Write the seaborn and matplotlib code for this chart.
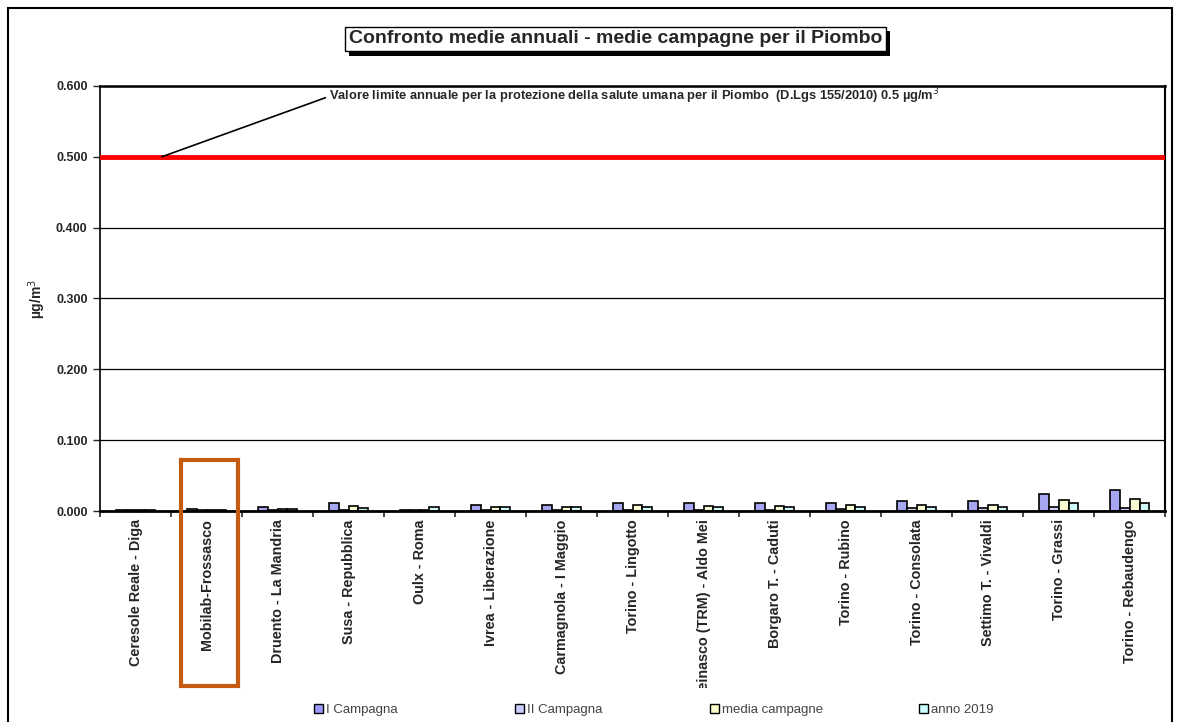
import numpy as np
import pandas as pd
import matplotlib
matplotlib.use("Agg")
import matplotlib.pyplot as plt
import matplotlib.patheffects as pe
from matplotlib.patches import Rectangle
from matplotlib.transforms import Bbox, TransformedBbox
import seaborn as sns

# ==========================================
# DATA (Pb, ug/m3)
# ==========================================

stazioni = [
    "Ceresole Reale - Diga", "Mobilab-Frossasco", "Druento - La Mandria",
    "Susa - Repubblica", "Oulx - Roma", "Ivrea - Liberazione",
    "Carmagnola - I Maggio", "Torino - Lingotto", "Beinasco (TRM) - Aldo Mei",
    "Borgaro T. - Caduti", "Torino - Rubino", "Torino - Consolata",
    "Settimo T. - Vivaldi", "Torino - Grassi", "Torino - Rebaudengo",
]
serie = ["I Campagna", "II Campagna", "media campagne", "anno 2019"]

i_campagna = [0.002, 0.003, 0.005, 0.011, 0.001, 0.008, 0.008, 0.012, 0.012, 0.012, 0.012, 0.014, 0.014, 0.024, 0.030]
ii_campagna = [0.002, 0.002, 0.002, 0.002, 0.001, 0.002, 0.002, 0.002, 0.002, 0.002, 0.003, 0.004, 0.004, 0.005, 0.004]
media_campagne = [0.002, 0.002, 0.003, 0.007, 0.001, 0.005, 0.005, 0.008, 0.007, 0.007, 0.008, 0.008, 0.009, 0.016, 0.017]
anno_2019 = [0.002, 0.002, 0.003, 0.004, 0.005, 0.005, 0.005, 0.005, 0.005, 0.005, 0.005, 0.006, 0.006, 0.012, 0.012]

valore_limite = 0.5
colori = ["#9999FF", "#CCCCFF", "#FFFFCC", "#CCFFFF"]

df = pd.DataFrame({
    "stazione": stazioni * 4,
    "serie": np.repeat(serie, len(stazioni)),
    "valore": i_campagna + ii_campagna + media_campagne + anno_2019,
})

# ==========================================
# PLOT
# ==========================================

sns.set_style("white")
plt.rcParams["font.family"] = ["Liberation Sans", "DejaVu Sans"]

fig = plt.figure(figsize=(11.81, 7.22), dpi=100)
ax = fig.add_axes([0.0847, 0.2922, 0.902, 0.5888])

sns.barplot(data=df, x="stazione", y="valore", hue="serie", palette=colori,
            width=0.55, edgecolor="black", linewidth=1.2, ax=ax, legend=False)

ax.set_xlim(-0.5, len(stazioni) - 0.5)
ax.set_ylim(0, 0.6)
ax.set_yticks(np.arange(0, 0.61, 0.1))
ax.set_yticklabels([f"{v:.3f}" for v in np.arange(0, 0.61, 0.1)], fontsize=9, fontweight="bold")
ax.grid(axis="y", color="black", linewidth=0.9)
ax.set_axisbelow(True)

# limit line
ax.axhline(valore_limite, color="#FF0000", linewidth=3.5, zorder=3)
ax.annotate("Valore limite annuale per la protezione della salute umana per il Piombo  (D.Lgs 155/2010) 0.5 µg/m$^3$",
            xy=(0.37, valore_limite), xytext=(2.72, 0.585), fontsize=9.3, fontweight="bold",
            va="center", ha="left", annotation_clip=False,
            arrowprops=dict(arrowstyle="-", color="black", lw=1.2, shrinkA=0, shrinkB=0,
                            relpos=(0, 0.5)))

# axes / ticks
for s in ["left", "right", "top", "bottom"]:
    ax.spines[s].set_visible(True)
    ax.spines[s].set_color("black")
ax.spines["left"].set_linewidth(1.2)
ax.spines["right"].set_linewidth(1.5)
ax.spines["top"].set_linewidth(1.8)
ax.spines["bottom"].set_linewidth(2.0)

ax.set_xticks(np.arange(len(stazioni)))
ax.set_xticklabels(stazioni, rotation=90, fontsize=10.4, fontweight="bold", va="top")
ax.set_xticks(np.arange(-0.5, len(stazioni), 1), minor=True)
ax.tick_params(axis="x", which="major", length=0, pad=6)
ax.tick_params(axis="x", which="minor", length=4, width=1.2, direction="out", bottom=True)
ax.tick_params(axis="y", length=5, width=1, direction="out", left=True, pad=4)
ax.set_xlabel("")
ax.set_ylabel("µg/m$^3$", fontsize=10, fontweight="bold", labelpad=6)

# long label is cut at the bottom like the original
clip = TransformedBbox(Bbox([[0, 0.047], [1, 1]]), fig.transFigure)
for lab in ax.get_xticklabels():
    lab.set_clip_box(clip)
    lab.set_clip_on(True)

# highlight box around Mobilab
fig.patches.append(Rectangle((181 / 1181, 1 - 686 / 722), 57 / 1181, 226 / 722,
                             transform=fig.transFigure, fill=False,
                             edgecolor="#C55A11", linewidth=3))

# title with shadow box
t = fig.text(0.521, 0.946, "Confronto medie annuali - medie campagne per il Piombo",
             ha="center", va="center", fontsize=14, fontweight="bold",
             bbox=dict(boxstyle="square,pad=0.2", facecolor="white", edgecolor="black", linewidth=1))
t.get_bbox_patch().set_path_effects([
    pe.SimplePatchShadow(offset=(3, -3), shadow_rgbFace="black", alpha=1), pe.Normal()])

# legend: equal-width slots along the bottom
legend_x = [0.266, 0.436, 0.601, 0.778]
for c, nome, lx in zip(colori, serie, legend_x):
    h = Rectangle((0, 0), 1, 1, facecolor=c, edgecolor="black", linewidth=1)
    fig.legend([h], [nome], loc="center left", bbox_to_anchor=(lx, 0.017),
               frameon=False, fontsize=9.5, handlelength=0.7, handleheight=0.7,
               handletextpad=0.2, borderpad=0, borderaxespad=0, labelcolor="#444444")

# outer frame
fig.patches.append(Rectangle((0.0068, -0.01), 0.9855, 0.999, transform=fig.transFigure,
                             fill=False, edgecolor="black", linewidth=1.5))

fig.savefig("out.png", dpi=100)
